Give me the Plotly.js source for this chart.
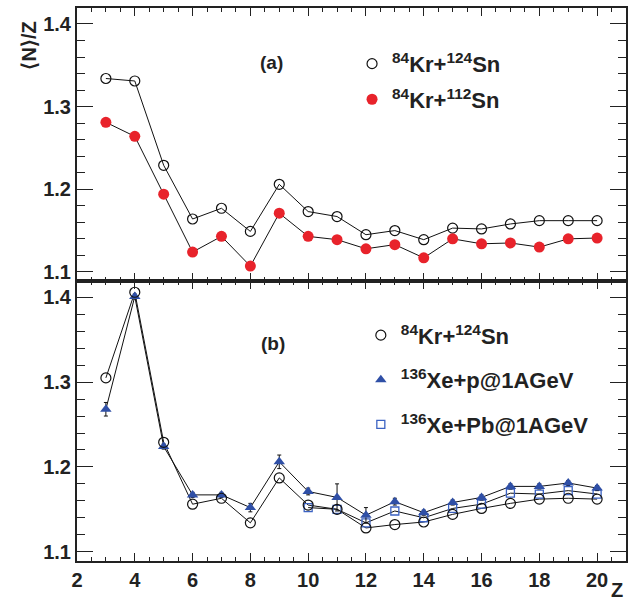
<!DOCTYPE html>
<html>
<head>
<meta charset="utf-8">
<script src="https://cdn.plot.ly/plotly-3.0.1.min.js"></script>
<style>html,body{margin:0;padding:0;background:#fff;}#chart{width:634px;height:603px;}</style>
</head>
<body>
<div id="chart"></div>
<script>
// ---- data ----
const Z = [3,4,5,6,7,8,9,10,11,12,13,14,15,16,17,18,19,20];
const topKr124 = [1.334,1.331,1.229,1.164,1.177,1.149,1.206,1.173,1.167,1.145,1.150,1.139,1.153,1.152,1.158,1.162,1.162,1.162];
const topKr112 = [1.281,1.264,1.194,1.124,1.143,1.107,1.171,1.143,1.139,1.128,1.133,1.117,1.140,1.134,1.135,1.130,1.140,1.141];
const botKr124 = [1.305,1.406,1.229,1.156,1.163,1.134,1.187,1.155,1.150,1.128,1.132,1.135,1.144,1.151,1.157,1.162,1.163,1.162];
const xeP = [1.268,1.401,1.224,1.167,1.167,1.152,1.206,1.171,1.164,1.143,1.159,1.146,1.158,1.164,1.177,1.177,1.181,1.175];
const xePErr = [0.008,0.003,0.003,0.003,0.003,0.005,0.008,0.004,0.016,0.009,0.004,0.003,0.003,0.003,0.003,0.003,0.003,0.003];
const ZPb = [10,11,12,13,14,15,16,17,18,19,20];
const xePb = [1.152,1.150,1.134,1.148,1.140,1.151,1.156,1.169,1.168,1.172,1.168];
const xTicks = [2,4,6,8,10,12,14,16,18,20];
const yTicks = [1.1,1.2,1.3,1.4];
const names = {
  kr124: '<sup>84</sup>Kr+<sup>124</sup>Sn',
  kr112: '<sup>84</sup>Kr+<sup>112</sup>Sn',
  xep: '<sup>136</sup>Xe+p@1AGeV',
  xepb: '<sup>136</sup>Xe+Pb@1AGeV'
};

const RED = '#e8232b', BLUE = '#2f4fa6', SQB = '#3b62c2';
const FONT = 'Liberation Sans, Arial, sans-serif';
const lineStyle = {color:'#111', width:1};

function lineTrace(x, y, xa, ya) {
  return {x:x, y:y, xaxis:xa, yaxis:ya, mode:'lines', line:lineStyle, showlegend:false, hoverinfo:'skip'};
}

const traces = [
  lineTrace(Z, topKr124, 'x2', 'y2'),
  lineTrace(Z, topKr112, 'x2', 'y2'),
  {x:Z, y:topKr124, xaxis:'x2', yaxis:'y2', mode:'markers', name:names.kr124, legend:'legend', legendgroup:'a1', legendrank:1,
   marker:{symbol:'circle-open', size:10, color:'#111', line:{width:1.2, color:'#111'}}},
  {x:Z, y:topKr112, xaxis:'x2', yaxis:'y2', mode:'markers', name:names.kr112, legend:'legend', legendgroup:'a2', legendrank:2,
   marker:{symbol:'circle', size:11, color:RED}},
  lineTrace(Z, botKr124, 'x', 'y'),
  lineTrace(Z, xeP, 'x', 'y'),
  lineTrace(ZPb, xePb, 'x', 'y'),
  {x:ZPb, y:xePb, xaxis:'x', yaxis:'y', mode:'markers', name:names.xepb, legend:'legend2', legendgroup:'b3', legendrank:3,
   marker:{symbol:'square-open', size:8, color:SQB, line:{width:1.3, color:SQB}}},
  {x:Z, y:xeP, xaxis:'x', yaxis:'y', mode:'markers', name:names.xep, legend:'legend2', legendgroup:'b2', legendrank:2,
   error_y:{type:'data', array:xePErr, visible:true, color:'#111', thickness:1, width:2},
   marker:{symbol:'triangle-up', size:10, color:BLUE}},
  {x:Z, y:botKr124, xaxis:'x', yaxis:'y', mode:'markers', name:names.kr124, legend:'legend2', legendgroup:'b1', legendrank:1,
   marker:{symbol:'circle-open', size:10, color:'#111', line:{width:1.2, color:'#111'}}}
];

const tickFont = {family:FONT, size:20, weight:'bold', color:'#222'};
const xCommon = {
  range:[2,21], tickvals:xTicks, ticks:'inside', ticklen:8, tickwidth:1, tickcolor:'#222',
  minor:{dtick:0.5, ticks:'inside', ticklen:4, tickwidth:1, tickcolor:'#222'},
  mirror:'allticks', showline:true, linecolor:'#222', linewidth:2, showgrid:false, zeroline:false,
  tickfont:tickFont
};
const yCommon = {
  range:[1.089,1.4193], tickvals:yTicks, ticktext:yTicks.map(v=>v.toFixed(1)), ticks:'inside', ticklen:16, tickwidth:1, tickcolor:'#222',
  minor:{dtick:0.02, tick0:1.1, ticks:'inside', ticklen:8, tickwidth:1, tickcolor:'#222'},
  mirror:'allticks', showline:true, linecolor:'#222', linewidth:2, showgrid:false, zeroline:false,
  tickfont:tickFont
};

const split = 280/553;
const legFont = {family:FONT, size:22, weight:'bold', color:'#222'};
const layout = {
  width:634, height:603,
  margin:{l:77, r:8, t:8, b:42},
  paper_bgcolor:'#fff', plot_bgcolor:'#fff',
  showlegend:true,
  xaxis: Object.assign({}, xCommon, {anchor:'y', domain:[0,1]}),
  yaxis: Object.assign({}, yCommon, {anchor:'x', domain:[0, split]}),
  xaxis2: Object.assign({}, xCommon, {anchor:'y2', domain:[0,1], showticklabels:false}),
  yaxis2: Object.assign({}, yCommon, {anchor:'x2', domain:[split, 1]}),
  legend:{x:0.501, y:0.937, xanchor:'left', yanchor:'top', font:legFont, bgcolor:'rgba(0,0,0,0)',
    traceorder:'grouped', tracegroupgap:4},
  legend2:{x:0.517, y:0.446, xanchor:'left', yanchor:'top', font:legFont, bgcolor:'rgba(0,0,0,0)',
    traceorder:'grouped', tracegroupgap:13},
  annotations:[
    {text:'⟨N⟩/Z', xref:'paper', yref:'paper', x:-0.112, y:(561-46)/553, yanchor:'middle', textangle:-90, showarrow:false,
     font:{family:FONT, size:20, weight:'bold', color:'#222'}},
    {text:'Z', xref:'paper', yref:'paper', x:0.999, y:-0.0524, yanchor:'middle', showarrow:false,
     font:{family:FONT, size:20, weight:'bold', color:'#222'}},
    {text:'(a)', xref:'paper', yref:'paper', x:0.355, y:0.924, showarrow:false,
     font:{family:FONT, size:19, weight:'bold', color:'#222'}},
    {text:'(b)', xref:'paper', yref:'paper', x:0.357, y:0.394, showarrow:false,
     font:{family:FONT, size:19, weight:'bold', color:'#222'}}
  ]
};

Plotly.newPlot('chart', traces, layout, {displayModeBar:false, staticPlot:true});
</script>
</body>
</html>
